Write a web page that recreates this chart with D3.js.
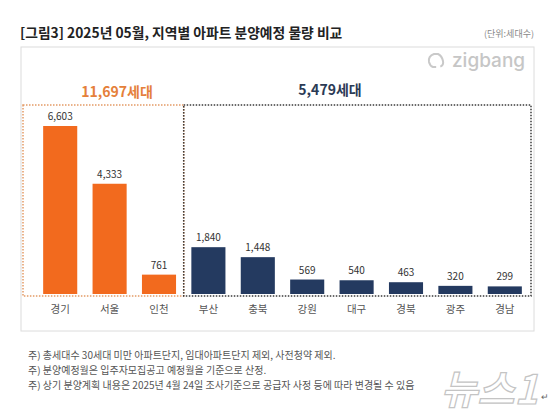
<!DOCTYPE html>
<html>
<head>
<meta charset="utf-8">
<script src="https://cdn.jsdelivr.net/npm/d3@7"></script>
<style>
  body { margin: 0; background: #fff; }
  svg { display: block; font-family: "Noto Sans CJK KR", "Noto Sans", sans-serif; }
</style>
</head>
<body>
<div id="chart"></div>
<script>
// data
const regions = ["경기", "서울", "인천", "부산", "충북", "강원", "대구", "경북", "광주", "경남"];
const units = [6603, 4333, 761, 1840, 1448, 569, 540, 463, 320, 299];
const metroRegions = ["경기", "서울", "인천"];
const groupTotals = ["11,697세대", "5,479세대"];
const notes = [
  "주) 총세대수 30세대 미만 아파트단지, 임대아파트단지 제외, 사전청약 제외.",
  "주) 분양예정월은 입주자모집공고 예정월을 기준으로 산정.",
  "주) 상기 분양계획 내용은 2025년 4월  24일  조사기준으로 공급자 사정 등에 따라 변경될 수 있음"
];

const width = 557, height = 416;
const orange = "#f26a1e", navy = "#243a60";

const svg = d3.select("#chart").append("svg")
  .attr("width", width)
  .attr("height", height);

// title
svg.append("text")
  .attr("x", 20).attr("y", 38)
  .attr("font-size", 13.8).attr("font-weight", 700).attr("fill", "#222")
  .text("[그림3] 2025년 05월, 지역별 아파트 분양예정 물량 비교");

svg.append("text")
  .attr("x", 534).attr("y", 37)
  .attr("text-anchor", "end")
  .attr("font-size", 9).attr("fill", "#888")
  .text("(단위:세대수)");

// outer panel
svg.append("rect")
  .attr("x", 21).attr("y", 47)
  .attr("width", 513).attr("height", 284)
  .attr("fill", "none").attr("stroke", "#dcdcdc");

// zigbang mark
svg.append("path")
  .attr("d", "M429,62 Q428,56 434,54 L438,54 Q442,56 443,61 Q444,66 439,67 L433,67 Q430,66 429,62")
  .attr("fill", "none").attr("stroke", "#c9c9c9").attr("stroke-width", 2)
  .attr("stroke-dasharray", "30,4");
svg.append("text")
  .attr("x", 452).attr("y", 67)
  .attr("font-family", "Inter, Roboto, sans-serif")
  .attr("font-size", 19).attr("font-weight", 500).attr("fill", "#c6c6c6")
  .text("zigbang");

// scales
const x = d3.scaleBand()
  .domain(regions)
  .range([35.5, 529.5])
  .paddingInner(0.31)
  .paddingOuter(0.155);

const y = d3.scaleLinear()
  .domain([0, 6603])
  .range([294, 126]);

const lastMetro = metroRegions[metroRegions.length - 1];
const splitX = x(lastMetro) + x.bandwidth() + x.step() * x.paddingInner() / 2;

// dotted group boxes
svg.append("rect")
  .attr("x", 23).attr("y", 105)
  .attr("width", splitX - 23).attr("height", 191)
  .attr("fill", "none").attr("stroke", "#e39a66")
  .attr("stroke-width", 1.5).attr("stroke-dasharray", "1.5,1.5");

svg.append("rect")
  .attr("x", splitX).attr("y", 105)
  .attr("width", 531 - splitX).attr("height", 191)
  .attr("fill", "none").attr("stroke", "#3a3a3a")
  .attr("stroke-width", 1.5).attr("stroke-dasharray", "1.5,1.5");

// group totals
svg.append("text")
  .attr("x", 117).attr("y", 97)
  .attr("text-anchor", "middle")
  .attr("font-size", 14).attr("font-weight", 700).attr("fill", "#e5803a")
  .text(groupTotals[0]);

svg.append("text")
  .attr("x", 330).attr("y", 95)
  .attr("text-anchor", "middle")
  .attr("font-size", 14).attr("font-weight", 700).attr("fill", "#2b3a55")
  .text(groupTotals[1]);

const data = regions.map((r, i) => ({ region: r, value: units[i] }));

svg.append("g")
  .selectAll("rect")
  .data(data)
  .join("rect")
  .attr("x", d => x(d.region))
  .attr("y", d => y(d.value))
  .attr("width", x.bandwidth())
  .attr("height", d => y(0) - y(d.value))
  .attr("fill", d => metroRegions.includes(d.region) ? orange : navy);

svg.append("g")
  .selectAll("text")
  .data(data)
  .join("text")
  .attr("x", d => x(d.region) + x.bandwidth() / 2)
  .attr("y", d => y(d.value) - 6)
  .attr("text-anchor", "middle")
  .attr("font-size", 10).attr("fill", "#333")
  .text(d => d3.format(",")(d.value));

// category axis, no line or ticks
const xAxis = svg.append("g")
  .attr("transform", "translate(0,296)")
  .call(d3.axisBottom(x).tickSize(0).tickPadding(10));
xAxis.select(".domain").remove();
xAxis.selectAll("text")
  .attr("font-size", 10.5)
  .attr("font-family", "\"Noto Sans CJK KR\", sans-serif")
  .attr("fill", "#555");

// footnotes
svg.append("g")
  .selectAll("text")
  .data(notes)
  .join("text")
  .attr("x", 28)
  .attr("y", (d, i) => 359 + i * 15)
  .attr("font-size", 10).attr("fill", "#555")
  .text(d => d);

// watermark
svg.append("text")
  .attr("x", 538).attr("y", 404)
  .attr("text-anchor", "end")
  .attr("font-size", 40).attr("font-weight", 700).attr("font-style", "italic")
  .attr("fill", "#fff").attr("fill-opacity", 0.6)
  .attr("stroke", "#c4c4c4").attr("stroke-width", 1.2)
  .text("뉴스1");

svg.append("text")
  .attr("x", 541).attr("y", 400)
  .attr("font-size", 9).attr("fill", "#666")
  .text("↵");
</script>
</body>
</html>
